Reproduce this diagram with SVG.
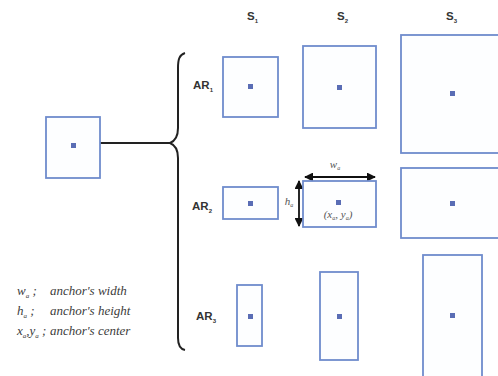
<svg xmlns="http://www.w3.org/2000/svg" width="498" height="376" viewBox="0 0 498 376">
  <style>
    .box { fill: #fdfeff; stroke: #6f8ccd; stroke-width: 1.8; }
    .dot { fill: #5a6db5; }
    .hdr { font-family: "Liberation Sans", Arial, sans-serif; font-weight: bold; font-size: 11.5px; fill: #333; }
    .sub { font-size: 6px; }
    .ann { font-family: "Liberation Serif", "Times New Roman", serif; font-style: italic; fill: #555; }
    .leg { font-family: "Liberation Serif", "Times New Roman", serif; font-style: italic; font-size: 13px; fill: #3c3c3c; }
    .wire { fill: none; stroke: #222; stroke-width: 2; }
    .dim { fill: none; stroke: #111; stroke-width: 1.8; }
  </style>
  <defs>
    <marker id="ah" viewBox="0 0 10 10" refX="9" refY="5" markerWidth="5" markerHeight="5" orient="auto-start-reverse">
      <path d="M0,0 L10,5 L0,10 z" fill="#111"/>
    </marker>
  </defs>

  <rect width="498" height="376" fill="#ffffff"/>

  <!-- column headers -->
  <g id="scales">
    <text class="hdr" x="247" y="20">S<tspan class="sub" dy="3">1</tspan></text>
    <text class="hdr" x="337" y="20">S<tspan class="sub" dy="3">2</tspan></text>
    <text class="hdr" x="446" y="20">S<tspan class="sub" dy="3">3</tspan></text>
  </g>

  <!-- row headers -->
  <g id="ratios">
    <text class="hdr" x="193" y="89">AR<tspan class="sub" dy="3">1</tspan></text>
    <text class="hdr" x="192" y="210">AR<tspan class="sub" dy="3">2</tspan></text>
    <text class="hdr" x="196" y="320">AR<tspan class="sub" dy="3">3</tspan></text>
  </g>

  <!-- connectors -->
  <g id="connectors">
    <path class="wire" d="M100,143 L170,143"/>
    <path class="wire" d="M185,53 C179,55 178,60 178,68 L178,128 C178,137 175,141 170,143 C175,145 178,149 178,158 L178,338 C178,345 180,349 185,350"/>
    <path class="dim" d="M305,177 L375,177" marker-start="url(#ah)" marker-end="url(#ah)"/>
    <path class="dim" d="M299,181 L299,226" marker-start="url(#ah)" marker-end="url(#ah)"/>
  </g>

  <!-- source anchor -->
  <g id="anchor">
    <rect class="box" x="46" y="117" width="54" height="61"/>
    <rect class="dot" x="71" y="143" width="5" height="5"/>
  </g>

  <!-- AR1 row -->
  <g id="ar1-s1">
    <rect class="box" x="223" y="57" width="55" height="60"/>
    <rect class="dot" x="248" y="84" width="5" height="5"/>
  </g>
  <g id="ar1-s2">
    <rect class="box" x="303" y="46" width="73" height="82"/>
    <rect class="dot" x="337" y="85" width="5" height="5"/>
  </g>
  <g id="ar1-s3">
    <rect class="box" x="401" y="35" width="102" height="118"/>
    <rect class="dot" x="450" y="91" width="5" height="5"/>
  </g>

  <!-- AR2 row -->
  <g id="ar2-s1">
    <rect class="box" x="223" y="187" width="55" height="32"/>
    <rect class="dot" x="248" y="201" width="5" height="5"/>
  </g>
  <g id="ar2-s2">
    <rect class="box" x="303" y="181" width="73" height="46"/>
    <rect class="dot" x="336" y="200" width="5" height="5"/>
    <text class="ann" x="335" y="168" font-size="11" text-anchor="middle">w<tspan font-size="6" dy="2">a</tspan></text>
    <text class="ann" x="289" y="205" font-size="11" text-anchor="middle">h<tspan font-size="6" dy="2">a</tspan></text>
    <text class="ann" x="338" y="218" font-size="11" text-anchor="middle">(x<tspan font-size="6" dy="2">a</tspan><tspan dy="-2">, y</tspan><tspan font-size="6" dy="2">a</tspan><tspan dy="-2">)</tspan></text>
  </g>
  <g id="ar2-s3">
    <rect class="box" x="401" y="168" width="102" height="70"/>
    <rect class="dot" x="450" y="201" width="5" height="5"/>
  </g>

  <!-- AR3 row -->
  <g id="ar3-s1">
    <rect class="box" x="237" y="285" width="25" height="61"/>
    <rect class="dot" x="248" y="314" width="5" height="5"/>
  </g>
  <g id="ar3-s2">
    <rect class="box" x="320" y="272" width="38" height="88"/>
    <rect class="dot" x="337" y="314" width="5" height="5"/>
  </g>
  <g id="ar3-s3">
    <rect class="box" x="423" y="255" width="59" height="125"/>
    <rect class="dot" x="450" y="313" width="5" height="5"/>
  </g>

  <!-- legend -->
  <g id="legend">
    <text class="leg" x="17" y="295">w<tspan font-size="7" dy="3">a</tspan><tspan dy="-3"> ;</tspan></text>
    <text class="leg" x="50" y="295">anchor's width</text>
    <text class="leg" x="17" y="315">h<tspan font-size="7" dy="3">a</tspan><tspan dy="-3"> ;</tspan></text>
    <text class="leg" x="50" y="315">anchor's height</text>
    <text class="leg" x="17" y="335">x<tspan font-size="7" dy="3">a</tspan><tspan dy="-3">,y</tspan><tspan font-size="7" dy="3">a</tspan><tspan dy="-3"> ;</tspan></text>
    <text class="leg" x="50" y="335">anchor's center</text>
  </g>
</svg>
